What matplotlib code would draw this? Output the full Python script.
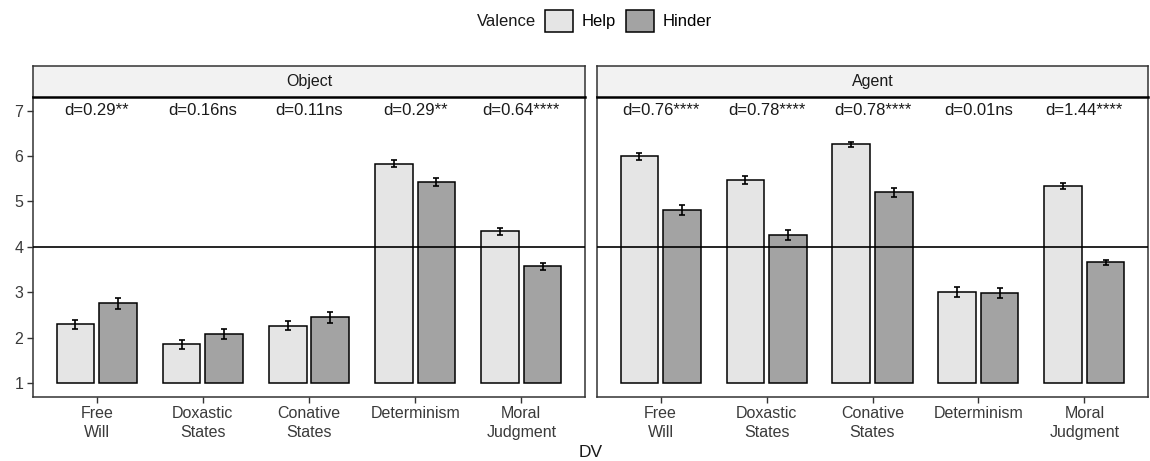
import numpy as np
import matplotlib.pyplot as plt
from matplotlib.patches import Patch

plt.rcParams['font.family'] = ['Liberation Sans', 'DejaVu Sans']

# data
dvs = ['Free\nWill', 'Doxastic\nStates', 'Conative\nStates', 'Determinism', 'Moral\nJudgment']
panels = ['Object', 'Agent']
help_means = {'Object': [2.29, 1.85, 2.26, 5.83, 4.34],
              'Agent': [5.99, 5.47, 6.26, 3.01, 5.34]}
hinder_means = {'Object': [2.76, 2.08, 2.45, 5.43, 3.57],
                'Agent': [4.82, 4.27, 5.20, 2.99, 3.66]}
help_se = {'Object': [0.10, 0.10, 0.10, 0.08, 0.07],
           'Agent': [0.08, 0.08, 0.06, 0.11, 0.07]}
hinder_se = {'Object': [0.12, 0.11, 0.12, 0.09, 0.07],
             'Agent': [0.11, 0.11, 0.10, 0.11, 0.06]}
d_labels = {'Object': ['d=0.29**', 'd=0.16ns', 'd=0.11ns', 'd=0.29**', 'd=0.64****'],
            'Agent': ['d=0.76****', 'd=0.78****', 'd=0.78****', 'd=0.01ns', 'd=1.44****']}

help_col = '#E5E5E5'
hinder_col = '#A3A3A3'
base = 1

fig = plt.figure(figsize=(11.5, 4.61), dpi=100)
W, H = 1150, 461
ax_px = {'Object': (33, 585), 'Agent': (597, 1148)}
top_px, bot_px, strip_top = 97, 396.7, 66

x = np.arange(1, len(dvs) + 1)
w = 0.355
off = 0.2

for name in panels:
    x0, x1 = ax_px[name]
    ax = fig.add_axes([x0 / W, 1 - bot_px / H, (x1 - x0) / W, (bot_px - top_px) / H])
    hm = np.array(help_means[name])
    km = np.array(hinder_means[name])
    ax.bar(x - off, hm - base, w, bottom=base, color=help_col, edgecolor='black', linewidth=1.1, zorder=2)
    ax.bar(x + off, km - base, w, bottom=base, color=hinder_col, edgecolor='black', linewidth=1.1, zorder=2)
    ax.errorbar(x - off, hm, yerr=help_se[name], fmt='none', ecolor='black', elinewidth=1.2,
                capsize=2.5, capthick=1.2, zorder=3)
    ax.errorbar(x + off, km, yerr=hinder_se[name], fmt='none', ecolor='black', elinewidth=1.2,
                capsize=2.5, capthick=1.2, zorder=3)
    ax.axhline(4, color='black', linewidth=1.2, zorder=4)
    for xi, lab in zip(x, d_labels[name]):
        ax.text(xi, 7, lab, ha='center', va='center', fontsize=12, color='#1a1a1a')
    ax.set_xlim(0.4, 5.6)
    ax.set_ylim(0.7, 7.3)
    ax.set_xticks(x)
    ax.set_xticklabels(dvs, fontsize=11.5, color='#3a3a3a', linespacing=1.3)
    ax.set_yticks([1, 2, 3, 4, 5, 6, 7])
    if name == 'Object':
        ax.set_yticklabels([1, 2, 3, 4, 5, 6, 7], fontsize=11.5, color='#3a3a3a')
    else:
        ax.tick_params(axis='y', left=False, labelleft=False)
    ax.tick_params(length=4, width=1, color='#333333', pad=3)
    for s in ax.spines.values():
        s.set_color('#333333')
        s.set_linewidth(1.1)

    # facet strip
    sax = fig.add_axes([x0 / W, 1 - top_px / H, (x1 - x0) / W, (top_px - strip_top) / H])
    sax.set_facecolor('#F2F2F2')
    sax.set_xticks([])
    sax.set_yticks([])
    for s in sax.spines.values():
        s.set_color('#333333')
        s.set_linewidth(1.1)
    sax.spines['bottom'].set_color('black')
    sax.spines['bottom'].set_linewidth(1.8)
    sax.text(0.5, 0.5, name, ha='center', va='center', fontsize=11.5, color='#1a1a1a',
             transform=sax.transAxes)

fig.text(591 / W, 1 - 452 / H, 'DV', ha='center', va='center', fontsize=12.5, color='#1a1a1a')

handles = [Patch(facecolor=help_col, edgecolor='black', linewidth=1.1, label='Help'),
           Patch(facecolor=hinder_col, edgecolor='black', linewidth=1.1, label='Hinder')]
fig.legend(handles=handles, loc='center', bbox_to_anchor=(628 / W, 1 - 21 / H), ncol=2,
           frameon=False, fontsize=12, handlelength=1.7, handleheight=1.7,
           handletextpad=0.5, columnspacing=0.6, borderpad=0)
fig.text(506 / W, 1 - 21 / H, 'Valence', ha='center', va='center', fontsize=12, color='#1a1a1a')

fig.savefig('out.png', dpi=100)
